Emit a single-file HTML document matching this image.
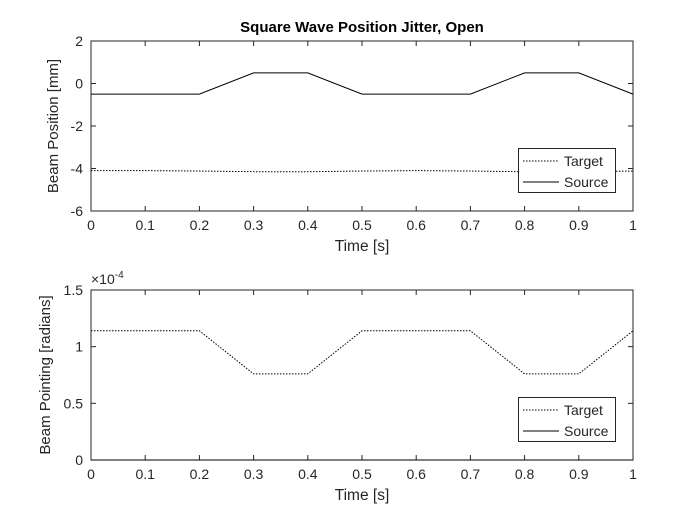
<!DOCTYPE html>
<html><head><meta charset="utf-8"><style>
body{margin:0;background:#fff}
svg text{font-family:"Liberation Sans",Arial,sans-serif;fill:#262626}
</style></head><body>
<svg width="700" height="525" xmlns="http://www.w3.org/2000/svg">
<rect width="700" height="525" fill="#fff"/>
<g id="g1"></g>
<g id="g2"></g>
</svg>
<script>
const times=[0,0.1,0.2,0.3,0.4,0.5,0.6,0.7,0.8,0.9,1];
const xTicks=[0,0.1,0.2,0.3,0.4,0.5,0.6,0.7,0.8,0.9,1];
const xTickLabels=["0","0.1","0.2","0.3","0.4","0.5","0.6","0.7","0.8","0.9","1"];
const posTarget=[-4.1,-4.1,-4.12,-4.15,-4.15,-4.12,-4.1,-4.12,-4.15,-4.15,-4.12];
const posSource=[-0.5,-0.5,-0.5,0.5,0.5,-0.5,-0.5,-0.5,0.5,0.5,-0.5];
const posYTicks=[-6,-4,-2,0,2];
const pointTarget=[1.14,1.14,1.14,0.76,0.76,1.14,1.14,1.14,0.76,0.76,1.14];
const pointSource=[0,0,0,0,0,0,0,0,0,0,0];
const pointYTicks=[0,0.5,1,1.5];
const pointYTickLabels=["0","0.5","1","1.5"];
const NS="http://www.w3.org/2000/svg";
function mk(p,t,a,txt){const e=document.createElementNS(NS,t);for(const k in a)e.setAttribute(k,a[k]);if(txt!==undefined)e.textContent=txt;p.appendChild(e);return e;}
function chart(g,top,bot,ymin,ymax,yt,ytl,target,source,ylabel,title,leg,yoff){
  const L=91,R=633;
  const sx=v=>L+(v-0)/(1-0)*(R-L);
  const sy=v=>bot-(v-ymin)/(ymax-ymin)*(bot-top);
  const box=mk(g,'rect',{x:L,y:top,width:R-L,height:bot-top,fill:'#fff',stroke:'#262626','stroke-width':1});
  
  xTicks.forEach((v,i)=>{const x=sx(v);
    mk(g,'line',{x1:x,y1:bot,x2:x,y2:bot-5,stroke:'#262626'});
    mk(g,'line',{x1:x,y1:top,x2:x,y2:top+5,stroke:'#262626'});
    const t=mk(g,'text',{x:x,y:bot+19,'text-anchor':'middle','font-size':14},xTickLabels[i]);
    });
  yt.forEach((v,i)=>{const y=sy(v);
    mk(g,'line',{x1:L,y1:y,x2:L+5,y2:y,stroke:'#262626'});
    mk(g,'line',{x1:R,y1:y,x2:R-5,y2:y,stroke:'#262626'});
    const t=mk(g,'text',{x:L-8,y:y+5,'text-anchor':'end','font-size':14},ytl?ytl[i]:String(v));
    });
  const xl=mk(g,'text',{x:(L+R)/2,y:bot+40,'text-anchor':'middle','font-size':15.5},'Time [s]');
  
  const yl=mk(g,'text',{x:0,y:0,'text-anchor':'middle','font-size':15,transform:`translate(${L-yoff},${(top+bot)/2}) rotate(-90)`},ylabel);
  
  if(title){const tt=mk(g,'text',{x:(L+R)/2,y:top-9,'text-anchor':'middle','font-size':15,'font-weight':'bold',style:'fill:#000'},title);
    }
  const pts=a=>a.map((v,i)=>sx(times[i])+','+sy(v)).join(' ');
  const lt=mk(g,'polyline',{points:pts(target),fill:'none',stroke:'#000','stroke-width':1,'stroke-dasharray':'1.5 1.5'});
  
  const ls=mk(g,'polyline',{points:pts(source),fill:'none',stroke:'#000','stroke-width':1});
  
  const lg=mk(g,'g',{});
  
  mk(lg,'rect',{x:518.5,y:leg+0.5,width:97,height:44,fill:'#fff',stroke:'#262626'});
  mk(lg,'line',{x1:523,y1:leg+13,x2:559,y2:leg+13,stroke:'#000','stroke-dasharray':'1.5 1.5'});
  mk(lg,'line',{x1:523,y1:leg+34,x2:559,y2:leg+34,stroke:'#000'});
  mk(lg,'text',{x:564,y:leg+18,'font-size':14},'Target');
  mk(lg,'text',{x:564,y:leg+39,'font-size':14},'Source');
}
chart(document.getElementById('g1'),41,211,-6,2,posYTicks,null,posTarget,posSource,'Beam Position [mm]','Square Wave Position Jitter, Open',148,33);
const g2=document.getElementById('g2');
chart(g2,290,460,0,1.5,pointYTicks,pointYTickLabels,pointTarget,pointSource,'Beam Pointing [radians]',null,397,41);
const ex=mk(g2,'text',{x:91,y:284,'font-size':14},'×10');

mk(ex,'tspan',{dy:-6,'font-size':10},'-4');
</script>
</body></html>
